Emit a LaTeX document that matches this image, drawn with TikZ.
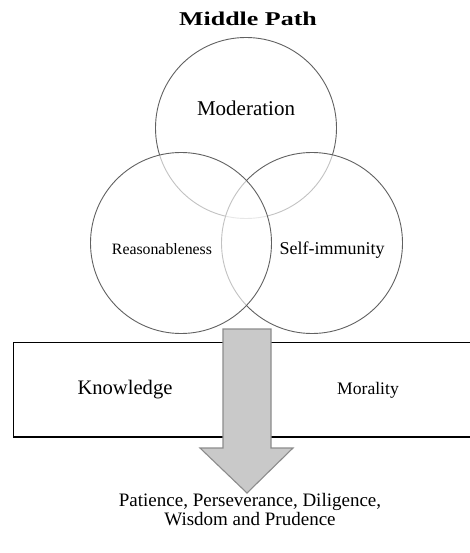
\documentclass[tikz,border=0pt]{standalone}
\usepackage{fontspec}
\setmainfont{Liberation Serif}
\usepackage{graphicx}
\begin{document}
\begin{tikzpicture}[x=1pt,y=-1pt,
  ring/.style={circle, draw=black!62, line width=0.9pt, fill=white, fill opacity=0.62, minimum size=181pt, inner sep=0pt},
  txt/.style={inner sep=0pt, anchor=base, text=black},
  bigarrow/.style={fill=black!21, draw=black!45, line width=1.1pt, line join=miter}]
\useasboundingbox (0,0) rectangle (470,553);
% circles
\node[ring] (top) at (246,128) {};
\node[ring] (right) at (312,243) {};
\node[ring] (left) at (181,243) {};
% band
\node[draw=black, line width=1.1pt, minimum width=480pt, minimum height=94pt, anchor=north west, inner sep=0pt] (band) at (13,342) {};
\draw[line width=1.6pt] (band.south west) -- (band.south east);
% arrow
\draw[bigarrow] (223,329) -- (271,329) -- (271,448) -- (293,448) -- (247,493) -- (200,448) -- (223,448) -- cycle;
% texts
\node[txt, font=\fontsize{19.5}{19.5}\selectfont\bfseries] (title) at (248,26) {\scalebox{1.33}[1]{Middle Path}};
\node[txt, font=\fontsize{21}{21}\selectfont] (mod) at (246,116) {Moderation};
\node[txt, font=\fontsize{15.8}{16}\selectfont] (rea) at (162,254) {Reasonableness};
\node[txt, font=\fontsize{18}{18}\selectfont] (self) at (332,254) {Self-immunity};
\node[txt, font=\fontsize{20.6}{21}\selectfont] (know) at (125,394) {Knowledge};
\node[txt, font=\fontsize{17.6}{18}\selectfont] (mor) at (368,394) {Morality};
\node[inner sep=0pt, anchor=base, align=center, font=\fontsize{19}{19}\selectfont] (virt) at (250,525) {Patience, Perseverance, Diligence,\\Wisdom and Prudence};
\end{tikzpicture}
\end{document}
